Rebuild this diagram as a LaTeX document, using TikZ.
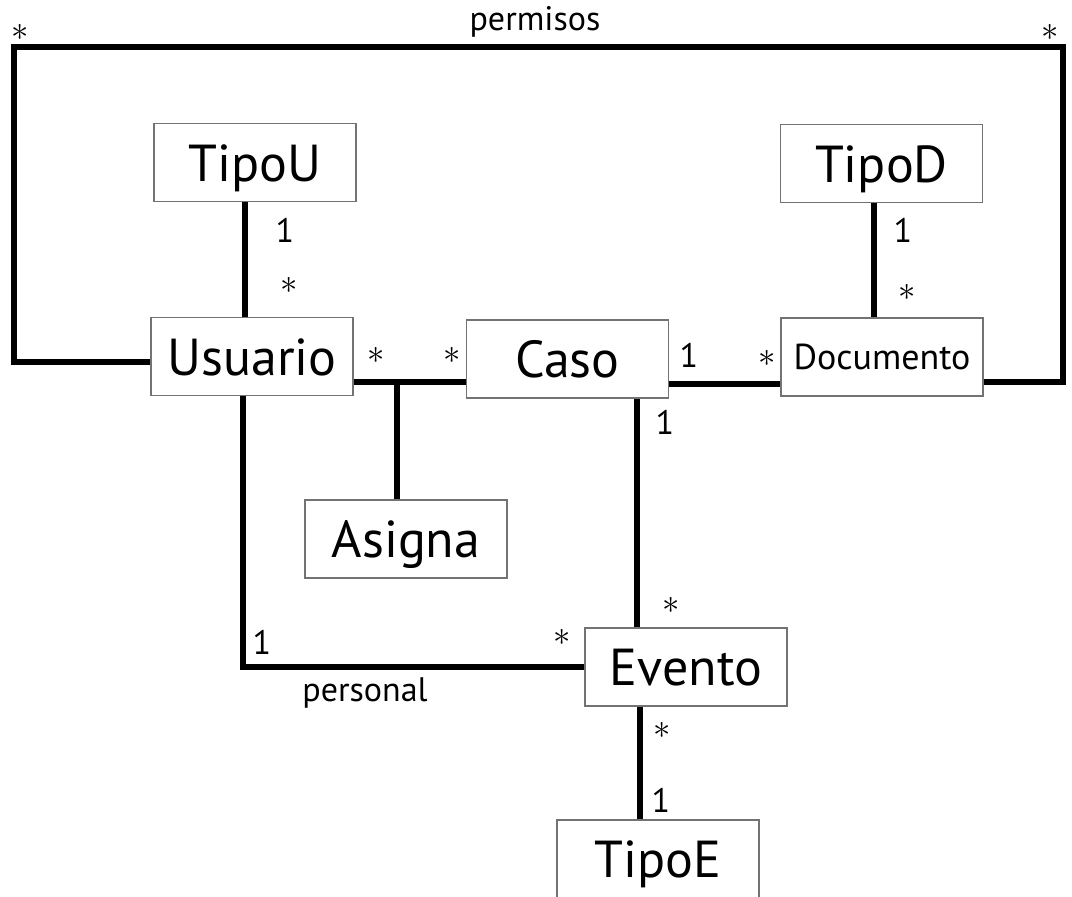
\documentclass[tikz,border=0pt]{standalone}
\usepackage{fontspec}
\setmainfont{PT Sans}
\newcommand{\muchos}{\raisebox{4.75pt}{$\ast$}}

\begin{document}
\begin{tikzpicture}[x=0.5pt,y=-0.5pt,
  clase/.style={draw=black!55,line width=0.8pt,fill=white,inner sep=0pt,
    minimum width=101pt,minimum height=39pt,text height=18.5pt,text depth=0pt,
    font=\fontsize{26}{30}\selectfont},
  assoc/.style={line width=3.4pt,line join=miter},
  mult/.style={anchor=base,inner sep=0pt,font=\fontsize{17}{20}\selectfont}]
  \useasboundingbox (0,0) rectangle (1072,896);

  % clases
  \node[clase] (tipou) at (255,162.5) {TipoU};
  \node[clase] (tipod) at (881.5,163.5) {TipoD};
  \node[clase] (usuario) at (252,356.5) {Usuario};
  \node[clase] (caso) at (567.5,359) {Caso};
  \node[clase,text height=12.7pt,font=\fontsize{18}{22}\selectfont] (documento) at (882,357) {Documento};
  \node[clase] (asigna) at (406,539) {Asigna};
  \node[clase] (evento) at (686,667) {Evento};
  \node[clase] (tipoe) at (658,859) {TipoE};

  % asociaciones
  \coordinate (tu) at ([xshift=-5pt]tipou.south);
  \draw[assoc] (tu) -- (tu |- usuario.north);
  \coordinate (td) at ([xshift=-3.75pt]tipod.south);
  \draw[assoc] (td) -- (td |- documento.north);

  \coordinate (uc) at ([yshift=-12.75pt]usuario.east);
  \draw[assoc] (uc) -- (uc -| caso.west);
  \coordinate (as) at ([xshift=-4.5pt]asigna.north);
  \draw[assoc] (as) -- (as |- uc);

  \coordinate (cd) at ([yshift=-12.5pt]caso.east);
  \draw[assoc] (cd) -- (cd -| documento.west);
  \coordinate (ce) at ([xshift=34.75pt]caso.south);
  \draw[assoc] (ce) -- (ce |- evento.north);
  \coordinate (et) at ([xshift=-23pt]evento.south);
  \draw[assoc] (et) -- (et |- tipoe.north);

  \draw[assoc] ([xshift=-4.5pt]usuario.south) |- (evento.west);

  \coordinate (pizq) at (14,47);
  \coordinate (pder) at (1063,47);
  \draw[assoc] ([yshift=-2.75pt]usuario.west) -| (pizq) -- (pder) |- ([yshift=-12.5pt]documento.east);

  % multiplicidades
  \node[mult] (m1) at (20,50) {\muchos};
  \node[mult] (m2) at (1050,50) {\muchos};
  \node[mult] (lperm) at (535,30) {permisos};
  \node[mult] (m3) at (285,242) {1};
  \node[mult] (m4) at (289,303) {\muchos};
  \node[mult] (m5) at (903,242) {1};
  \node[mult] (m6) at (907,310) {\muchos};
  \node[mult] (m7) at (376,373) {\muchos};
  \node[mult] (m8) at (452,373) {\muchos};
  \node[mult] (m9) at (689,367) {1};
  \node[mult] (m10) at (767,376) {\muchos};
  \node[mult] (m11) at (665,434) {1};
  \node[mult] (m12) at (671,623) {\muchos};
  \node[mult] (m13) at (262,654) {1};
  \node[mult] (m14) at (562,655) {\muchos};
  \node[mult] (lpers) at (365,701) {personal};
  \node[mult] (m15) at (662,748) {\muchos};
  \node[mult] (m16) at (661,812) {1};
\end{tikzpicture}
\end{document}
